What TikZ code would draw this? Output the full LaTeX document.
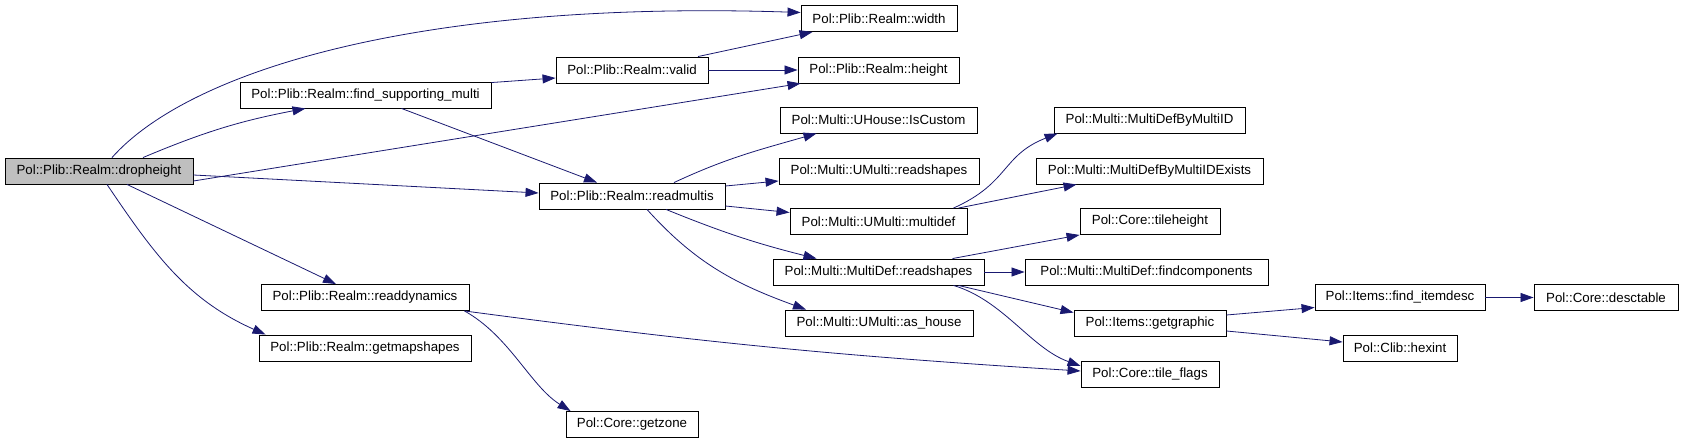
\documentclass[tikz,border=0pt]{standalone}
\usepackage{fontspec}
\setmainfont{Liberation Sans}
\usetikzlibrary{arrows.meta}
\definecolor{edgeblue}{RGB}{25,25,112}
\tikzset{
  fn/.style={draw=black,line width=0.9pt,fill=white,minimum height=26,inner sep=0pt,font=\fontsize{13.3}{15}\selectfont},
  fnroot/.style={fn,fill=black!25},
  call/.style={-{Triangle[length=13pt,width=9pt]},line width=0.8pt,draw=edgeblue}
}
\begin{document}
\begin{tikzpicture}[x=1pt,y=1pt]
  \useasboundingbox (0,0) rectangle (1683,-443);
  % functions
  \node[fnroot,minimum width=188] (drop) at (99,-171) {Pol::Plib::Realm::dropheight};
  \node[fn,minimum width=251] (fsm) at (365.5,-95) {Pol::Plib::Realm::find\_supporting\_multi};
  \node[fn,minimum width=208] (readdyn) at (365,-297.5) {Pol::Plib::Realm::readdynamics};
  \node[fn,minimum width=212] (getmap) at (365,-348) {Pol::Plib::Realm::getmapshapes};
  \node[fn,minimum width=152] (valid) at (632,-70) {Pol::Plib::Realm::valid};
  \node[fn,minimum width=186] (readmultis) at (632,-196) {Pol::Plib::Realm::readmultis};
  \node[fn,minimum width=132] (getzone) at (632,-424.5) {Pol::Core::getzone};
  \node[fn,minimum width=156] (width) at (879,-18.5) {Pol::Plib::Realm::width};
  \node[fn,minimum width=161] (height) at (878.5,-70) {Pol::Plib::Realm::height};
  \node[fn,minimum width=197] (iscustom) at (878.5,-120) {Pol::Multi::UHouse::IsCustom};
  \node[fn,minimum width=200] (umshapes) at (879,-171) {Pol::Multi::UMulti::readshapes};
  \node[fn,minimum width=177] (multidef) at (878.5,-221.5) {Pol::Multi::UMulti::multidef};
  \node[fn,minimum width=211] (mdshapes) at (878.5,-272) {Pol::Multi::MultiDef::readshapes};
  \node[fn,minimum width=188] (ashouse) at (879,-323) {Pol::Multi::UMulti::as\_house};
  \node[fn,minimum width=191] (byid) at (1149.5,-120) {Pol::Multi::MultiDefByMultiID};
  \node[fn,minimum width=227] (byidex) at (1149.5,-171) {Pol::Multi::MultiDefByMultiIDExists};
  \node[fn,minimum width=140] (tileheight) at (1150,-221.5) {Pol::Core::tileheight};
  \node[fn,minimum width=243] (findcomp) at (1146.5,-272) {Pol::Multi::MultiDef::findcomponents};
  \node[fn,minimum width=152] (getgraphic) at (1150,-323) {Pol::Items::getgraphic};
  \node[fn,minimum width=138] (tileflags) at (1150,-374) {Pol::Core::tile\_flags};
  \node[fn,minimum width=170] (itemdesc) at (1400,-297.5) {Pol::Items::find\_itemdesc};
  \node[fn,minimum width=114] (hexint) at (1400,-348) {Pol::Clib::hexint};
  \node[fn,minimum width=144] (desctable) at (1606,-297.5) {Pol::Core::desctable};
  % calls
  \draw[call] ([xshift=13]drop.north) .. controls (190,-70) and (420,0) .. ([yshift=6]width.west);
  \draw[call] ([xshift=44]drop.north) to[bend left=6] ([xshift=-60]fsm.south);
  \draw[call] ([yshift=-10]drop.east) -- ([xshift=3]height.south west);
  \draw[call] ([yshift=-4]drop.east) -- ([yshift=3]readmultis.west);
  \draw[call] ([xshift=28]drop.south) -- ([xshift=-29]readdyn.north);
  \draw[call] ([xshift=8]drop.south) to[out=-56,in=156] ([xshift=7]getmap.north west);
  \draw[call] ([yshift=-1]fsm.north east) -- ([yshift=-8]valid.west);
  \draw[call] ([xshift=36]fsm.south) -- ([xshift=-35]readmultis.north);
  \draw[call] ([xshift=66]valid.north) -- ([xshift=12]width.south west);
  \draw[call] (valid.east) -- (height.west);
  \draw[call] ([xshift=42]readmultis.north) to[out=25,in=196] ([xshift=-62]iscustom.south);
  \draw[call] ([yshift=10]readmultis.east) -- ([yshift=-10]umshapes.west);
  \draw[call] ([yshift=-10]readmultis.east) -- ([yshift=9]multidef.west);
  \draw[call] ([xshift=34]readmultis.south) to[bend right=4] ([xshift=-62]mdshapes.north);
  \draw[call] ([xshift=15]readmultis.south) to[out=-48,in=160] ([xshift=-73]ashouse.north);
  \draw[call] ([xshift=75]multidef.north) .. controls +(56,25) and +(-56,-22) .. ([xshift=4]byid.south west);
  \draw[call] ([xshift=80]multidef.north) -- ([xshift=41]byidex.south west);
  \draw[call] ([xshift=74]mdshapes.north) -- (tileheight.south west);
  \draw[call] (mdshapes.east) -- (findcomp.west);
  \draw[call] ([xshift=80]mdshapes.south) -- ([yshift=-3]getgraphic.north west);
  \draw[call] ([xshift=75]mdshapes.south) .. controls +(50,-15) and +(-50,18) .. ([yshift=8]tileflags.west);
  \draw[call] ([xshift=-5]readdyn.south east) to[bend right=2] ([yshift=3]tileflags.west);
  \draw[call] ([xshift=-5]readdyn.south east) .. controls +(45,-25) and +(-40,25) .. ([xshift=5]getzone.north west);
  \draw[call] ([yshift=8]getgraphic.east) -- ([yshift=-10]itemdesc.west);
  \draw[call] ([yshift=-8]getgraphic.east) -- ([yshift=6]hexint.west);
  \draw[call] (itemdesc.east) -- (desctable.west);
\end{tikzpicture}
\end{document}
